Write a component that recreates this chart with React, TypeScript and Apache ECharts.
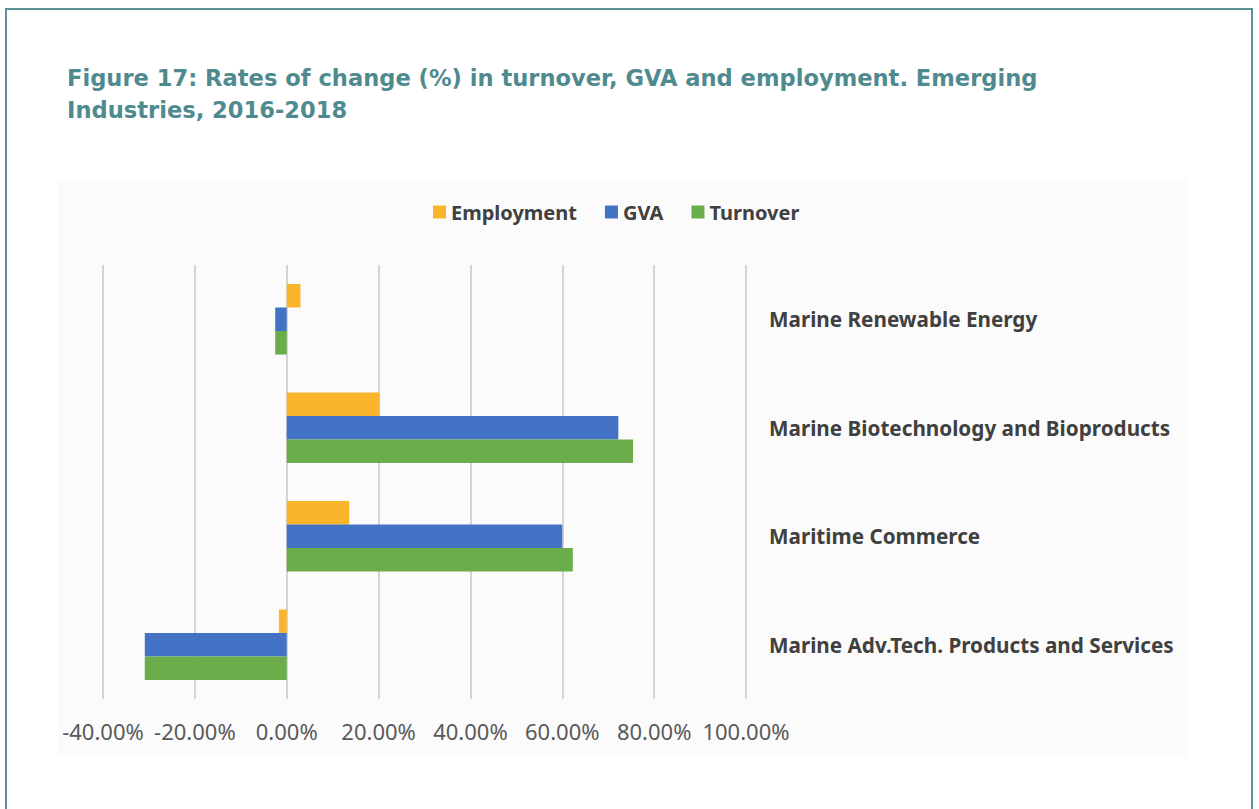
import React, { useEffect, useRef } from "react";
import * as echarts from "echarts";

const categories = [
  "Marine Renewable Energy",
  "Marine Biotechnology and Bioproducts",
  "Maritime Commerce",
  "Marine Adv.Tech. Products and Services",
];
const employment = [3.0, 20.2, 13.6, -1.7];
const gva = [-2.5, 72.2, 60.0, -30.9];
const turnover = [-2.5, 75.4, 62.3, -30.9];
const seriesNames = ["Employment", "GVA", "Turnover"];
const colors = ["#fbb52b", "#4472c4", "#6aad4a"];
const titleLines = [
  "Figure 17: Rates of change (%) in turnover, GVA and employment. Emerging",
  "Industries, 2016-2018",
];

export default function App() {
  const ref = useRef<HTMLDivElement>(null);
  useEffect(() => {
    if (!ref.current) return;
    const chart = echarts.init(ref.current, null, { renderer: "svg" });
    const font = "'Noto Sans'";
    const values = [employment, gva, turnover];
    chart.setOption({
      animation: false,
      backgroundColor: "#ffffff",
      color: colors,
      graphic: [
        {
          type: "rect",
          z: -10,
          silent: true,
          shape: { x: 58, y: 179, width: 1129, height: 578 },
          style: { fill: "#fbfbfb" },
        },
        {
          type: "rect",
          z: -10,
          silent: true,
          shape: { x: 6, y: 9, width: 1246, height: 830 },
          style: { fill: "none", stroke: "#5b9197", lineWidth: 2 },
        },
        ...titleLines.map((line, i) => ({
          type: "text",
          z: 10,
          x: 67,
          y: 66 + i * 32,
          style: {
            text: line,
            fill: "#4f8a8f",
            font: "bold 22.6px 'DejaVu Sans'",
          },
        })),
      ],
      legend: {
        data: seriesNames,
        left: 428,
        top: 197,
        itemWidth: 13,
        itemHeight: 13,
        itemGap: 28,
        icon: "rect",
        textStyle: {
          fontFamily: font,
          fontWeight: "bold",
          fontSize: 20,
          color: "#404040",
        },
      },
      grid: { left: 103, right: 513, top: 265, bottom: 110, containLabel: false },
      xAxis: {
        type: "value",
        min: -40,
        max: 100,
        interval: 20,
        axisLine: { show: false },
        axisTick: { show: false },
        splitLine: { lineStyle: { color: "#d4d4d4", width: 2 } },
        axisLabel: {
          formatter: (v: number) => v.toFixed(2) + "%",
          fontFamily: font,
          fontSize: 22,
          color: "#595959",
          margin: 21,
        },
      },
      yAxis: {
        type: "category",
        data: categories,
        inverse: true,
        position: "right",
        axisLine: { show: false },
        axisTick: { show: false },
        axisLabel: {
          align: "left",
          margin: 23,
          fontFamily: font,
          fontWeight: "bold",
          fontSize: 20.7,
          color: "#404040",
        },
      },
      series: seriesNames.map((name, i) => ({
        name,
        type: "bar",
        data: values[i],
        barGap: "0%",
        barCategoryGap: "35%",
        itemStyle: { color: colors[i] },
      })),
    });
    return () => chart.dispose();
  }, []);
  return (
    <div
      ref={ref}
      style={{ position: "absolute", left: 0, top: 0, width: 1259, height: 809 }}
    />
  );
}
